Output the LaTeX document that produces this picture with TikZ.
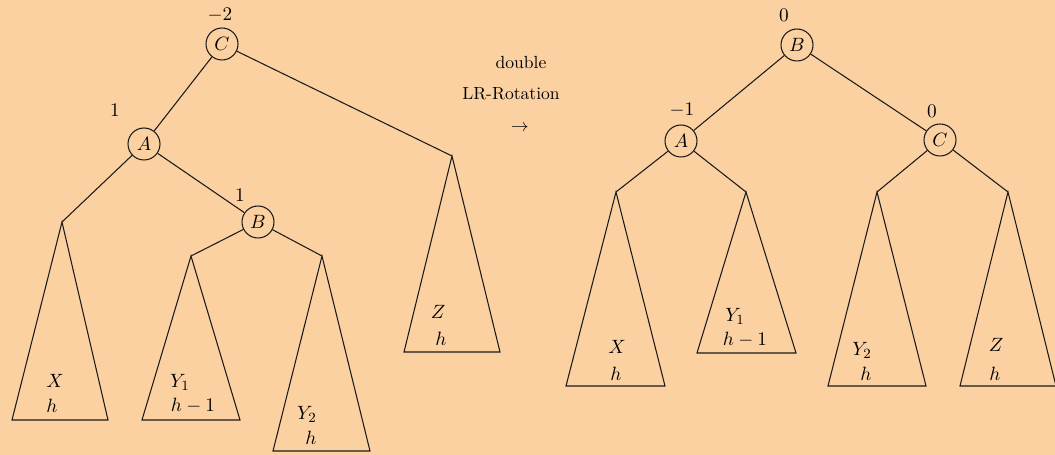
\documentclass[tikz,border=0pt]{standalone}
\usepackage{amsmath,amssymb}
\usepackage{tikz}
\usepackage{xcolor}
\usetikzlibrary{arrows.meta,positioning,calc}
\definecolor{paper}{HTML}{FBD1A2}
\definecolor{ink}  {HTML}{1A1A1A}
\tikzset{
  avlnode/.style  ={draw=ink, fill=paper, circle, line width=0.6pt,
                    minimum size=0.64cm, inner sep=0pt, font=\fontsize{11}{13}\selectfont},
  balance/.style  ={font=\fontsize{11}{13}\selectfont, inner sep=1pt},
  treelab/.style  ={font=\fontsize{11}{13}\selectfont, inner sep=1pt},
  edge/.style     ={draw=ink, line width=0.6pt},
  subtree/.style  ={draw=ink, line width=0.6pt, line join=miter},
  caption/.style  ={font=\fontsize{10}{12}\selectfont, inner sep=1pt},
}

\begin{document}
\begin{tikzpicture}[x=0.02cm,y=-0.02cm]
    \fill[paper] (0,0) rectangle (1055,455);
    \useasboundingbox (0,0) rectangle (1055,455);

    % left tree (before rotation)
    \node[avlnode] (lC) at (222,44) {$C$};
    \node[avlnode] (lA) at (144,144) {$A$};
    \node[avlnode] (lB) at (258,222) {$B$};
    \node[balance] (lbC) at (220,15) {$-2$};
    \node[balance] (lbA) at (115,110) {$1$};
    \node[balance] (lbB) at (240,195) {$1$};

    \coordinate (lX) at (62,222);
    \coordinate (lY1) at (191,256);
    \coordinate (lY2) at (322,256);
    \coordinate (lZ) at (452,156);

    \draw[edge] (lC) -- (lA);
    \draw[edge] (lC) -- (lZ);
    \draw[edge] (lA) -- (lX);
    \draw[edge] (lA) -- (lB);
    \draw[edge] (lB) -- (lY1);
    \draw[edge] (lB) -- (lY2);

    \draw[subtree] (lX) -- (12,420) -- (108,420) -- cycle;
    \draw[subtree] (lY1) -- (142,420) -- (240,420) -- cycle;
    \draw[subtree] (lY2) -- (273,451) -- (370,451) -- cycle;
    \draw[subtree] (lZ) -- (404,352) -- (500,352) -- cycle;

    \node[treelab] (tlX) at (55,381) {$X$};
    \node[treelab] (thX) at (52,406) {$h$};
    \node[treelab] (tlY1) at (180,382) {$Y_1$};
    \node[treelab] (thY1) at (193,406) {$h-1$};
    \node[treelab] (tlY2) at (307,414) {$Y_2$};
    \node[treelab] (thY2) at (311,438) {$h$};
    \node[treelab] (tlZ) at (438,312) {$Z$};
    \node[treelab] (thZ) at (441,339) {$h$};

    % rotation label
    \node[caption] (dbl) at (521,63) {double};
    \node[caption] (lrr) at (511,94) {LR-Rotation};
    \node[caption] (arr) at (520,128) {$\rightarrow$};

    % right tree (after rotation)
    \node[avlnode] (rB) at (797,45) {$B$};
    \node[avlnode] (rA) at (681,141) {$A$};
    \node[avlnode] (rC) at (940,140) {$C$};
    \node[balance] (rbB) at (784,15) {$0$};
    \node[balance] (rbA) at (682,110) {$-1$};
    \node[balance] (rbC) at (932,111) {$0$};

    \coordinate (rX) at (616,192);
    \coordinate (rY1) at (746,192);
    \coordinate (rY2) at (877,192);
    \coordinate (rZ) at (1008,192);

    \draw[edge] (rB) -- (rA);
    \draw[edge] (rB) -- (rC);
    \draw[edge] (rA) -- (rX);
    \draw[edge] (rA) -- (rY1);
    \draw[edge] (rC) -- (rY2);
    \draw[edge] (rC) -- (rZ);

    \draw[subtree] (rX) -- (566,386) -- (665,386) -- cycle;
    \draw[subtree] (rY1) -- (697,353) -- (796,353) -- cycle;
    \draw[subtree] (rY2) -- (828,386) -- (926,386) -- cycle;
    \draw[subtree] (rZ) -- (960,386) -- (1056,386) -- cycle;

    \node[treelab] (trX) at (617,347) {$X$};
    \node[treelab] (trhX) at (616,374) {$h$};
    \node[treelab] (trY1) at (735,316) {$Y_1$};
    \node[treelab] (trhY1) at (745,340) {$h-1$};
    \node[treelab] (trY2) at (862,350) {$Y_2$};
    \node[treelab] (trhY2) at (866,374) {$h$};
    \node[treelab] (trZ) at (996,345) {$Z$};
    \node[treelab] (trhZ) at (995,374) {$h$};
  \end{tikzpicture}
\end{document}
